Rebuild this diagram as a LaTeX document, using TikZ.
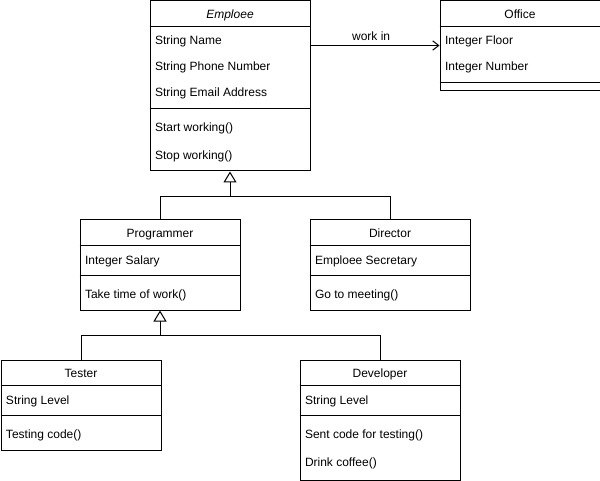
\documentclass[tikz,border=0pt]{standalone}
\usepackage{fontspec}
\setmainfont{Liberation Sans}
\usetikzlibrary{arrows.meta,calc}

\begin{document}
\begin{tikzpicture}[x=0.75pt,y=-0.75pt,line width=0.75pt,
    font=\fontsize{9}{11}\selectfont,
    cls/.style={draw,anchor=north west,inner sep=0pt,minimum width=120pt},
    title/.style={inner sep=0pt,text height=6.6pt,text depth=1.9pt,yshift=-1.4pt},
    mem/.style={anchor=west,inner sep=0pt,text height=6.6pt,text depth=1.9pt,yshift=-1.4pt},
    inherit/.style={-{Triangle[open,length=8.25pt,width=9.75pt,fill=white]}},
    assoc/.style={-{Straight Barb[length=4.5pt,width=7pt]}}]
    \useasboundingbox (0,0) rectangle (600,481);

    % Class boxes
    \node [cls,minimum height=127.5pt] (emp) at (149.5,0.5) {};
    \node [cls,minimum height=67.5pt] (off) at (439.5,0.5) {};
    \node [cls,minimum height=67.5pt] (prog) at (79.5,219.5) {};
    \node [cls,minimum height=67.5pt] (dir) at (309.5,219.5) {};
    \node [cls,minimum height=67.5pt] (test) at (0.5,359.5) {};
    \node [cls,minimum height=90pt] (dev) at (299.5,359.5) {};

    % Titles and compartment lines
    \node [title] (emp-t) at ($(emp.north)+(0,13)$) {\textit{Emploee}};
    \draw (emp.north west) ++(0,26) -- ++(160,0);
    \draw (emp.north west) ++(0,108) -- ++(160,0);
    \node [title] (off-t) at ($(off.north)+(0,13)$) {Office};
    \draw (off.north west) ++(0,26) -- ++(160,0);
    \draw (off.north west) ++(0,82) -- ++(160,0);
    \foreach \c/\t in {prog/Programmer, dir/Director, test/Tester, dev/Developer} {
        \node [title] (\c-t) at ($(\c.north)+(0,13)$) {\t};
        \draw (\c.north west) ++(0,26) -- ++(160,0);
        \draw (\c.north west) ++(0,56) -- ++(160,0);
    }

    % Attributes
    \foreach \t [count=\i] in {String Name, String Phone Number, String Email Address}
        \node [mem] (emp-a\i) at ($(emp.north west)+(5,13+26*\i)$) {\t};
    \foreach \t [count=\i] in {Integer Floor, Integer Number}
        \node [mem] (off-a\i) at ($(off.north west)+(5,13+26*\i)$) {\t};
    \node [mem] (prog-a1) at ($(prog.north west)+(5,39.5)$) {Integer Salary};
    \node [mem] (dir-a1) at ($(dir.north west)+(5,39.5)$) {Emploee Secretary};
    \node [mem] (test-a1) at ($(test.north west)+(5,39.5)$) {String Level};
    \node [mem] (dev-a1) at ($(dev.north west)+(5,39.5)$) {String Level};

    % Methods
    \foreach \t [count=\i] in {Start working(), Stop working()}
        \node [mem] (emp-m\i) at ($(emp.north west)+(5,98+28*\i)$) {\t};
    \node [mem] (prog-m1) at ($(prog.north west)+(5,74)$) {Take time of work()};
    \node [mem] (dir-m1) at ($(dir.north west)+(5,74)$) {Go to meeting()};
    \node [mem] (test-m1) at ($(test.north west)+(5,74)$) {Testing code()};
    \foreach \t [count=\i] in {Sent code for testing(), Drink coffee()}
        \node [mem] (dev-m\i) at ($(dev.north west)+(5,46+28*\i)$) {\t};

    % Association
    \coordinate (w1) at ($(emp.north east)+(0,45)$);
    \draw [assoc] (w1) -- (w1 -| off.west) node [pos=0.47,above=3pt,title] {work in};

    % Generalisations
    \coordinate (j1) at ($(emp.south)+(0,25)$);
    \coordinate (j2) at ($(prog.south)+(0,25)$);
    \draw (dir.north) |- (j1);
    \draw [inherit] (prog.north) |- (j1) -- (emp.south);
    \draw (dev.north) |- (j2);
    \draw [inherit] (test.north) |- (j2) -- (prog.south);

\end{tikzpicture}
\end{document}
